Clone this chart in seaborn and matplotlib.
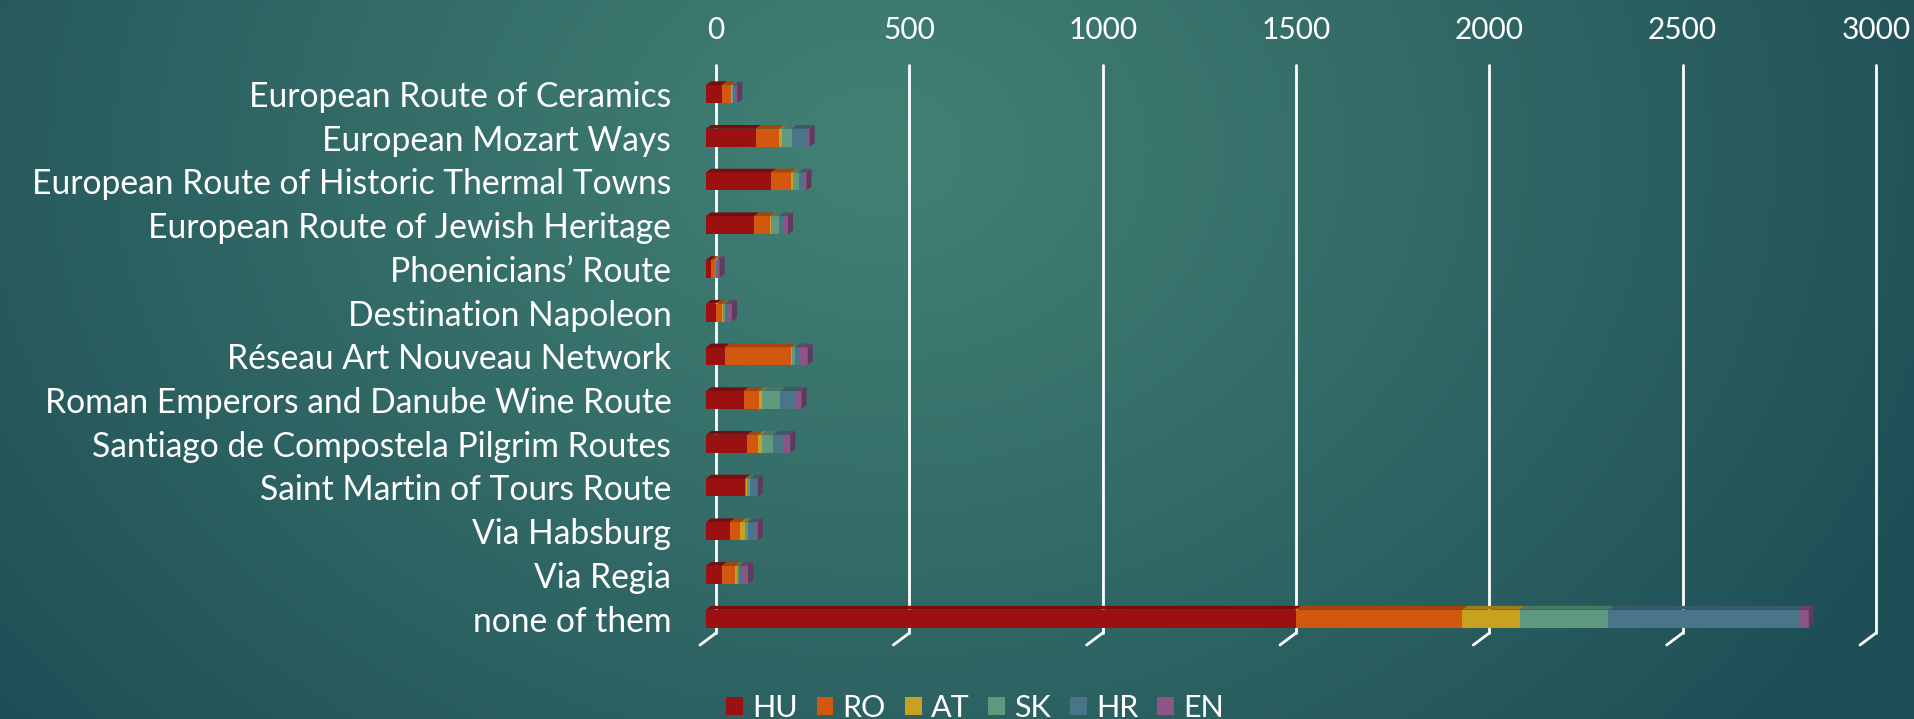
import numpy as np
import pandas as pd
import matplotlib
matplotlib.use("Agg")
import matplotlib.pyplot as plt
import seaborn as sns
import matplotlib.colors as mcolors
from matplotlib.transforms import ScaledTranslation
from matplotlib.patches import Polygon, Patch

# ---------------- data ----------------
categories = [
    "European Route of Ceramics",
    "European Mozart Ways",
    "European Route of Historic Thermal Towns",
    "European Route of Jewish Heritage",
    "Phoenicians\u2019 Route",
    "Destination Napoleon",
    "R\u00e9seau Art Nouveau Network",
    "Roman Emperors and Danube Wine Route",
    "Santiago de Compostela Pilgrim Routes",
    "Saint Martin of Tours Route",
    "Via Habsburg",
    "Via Regia",
    "none of them",
]
hu = [41, 129, 168, 125, 13, 26, 48, 97, 107, 101, 61, 41, 1526]
ro = [23, 60, 53, 41, 9, 16, 172, 41, 28, 3, 28, 35, 430]
at = [2, 7, 4, 3, 2, 3, 3, 6, 9, 1, 12, 4, 149]
sk = [4, 26, 15, 19, 2, 5, 7, 48, 30, 9, 8, 5, 229]
hr = [6, 41, 11, 15, 3, 8, 11, 41, 28, 17, 18, 8, 492]
en = [5, 5, 9, 9, 6, 9, 22, 14, 16, 3, 7, 16, 26]

series_names = ["HU", "RO", "AT", "SK", "HR", "EN"]
series_colors = ["#9b1111", "#d2580f", "#caa021", "#5f9a80", "#4a7487", "#8b5588"]
x_ticks = [0, 500, 1000, 1500, 2000, 2500, 3000]

# ---------------- setup ----------------
DPI = 100
W, H = 1914, 719
sns.set_theme(style="white")
plt.rcParams["font.family"] = ["Lato", "DejaVu Sans"]

fig = plt.figure(figsize=(W / DPI, H / DPI), dpi=DPI)

# background gradient
bg = fig.add_axes([0, 0, 1, 1], zorder=-10)
yy, xx = np.mgrid[0:H, 0:W]
t = np.sqrt(((xx - 880) / 1150.0) ** 2 + ((yy - 150) / 900.0) ** 2)
t = np.clip(t, 0, 1) ** 1.1
inner = np.array([66, 128, 116]) / 255.0
outer = np.array([30, 78, 86]) / 255.0
img = inner + (outer - inner) * t[..., None]
bg.imshow(img, aspect="auto", extent=[0, 1, 0, 1], origin="upper")
bg.axis("off")

# plotting axes (front plane of the bars)
top_px, bot_px = 72.15, 640.4
left_px, right_px = 706, 706 + 1160
ax = fig.add_axes([left_px / W, 1 - bot_px / H, (right_px - left_px) / W, (bot_px - top_px) / H])
ax.set_facecolor("none")

df = pd.DataFrame({"category": categories, "HU": hu, "RO": ro, "AT": at,
                   "SK": sk, "HR": hr, "EN": en})
cum = df[series_names].cumsum(axis=1)

containers = {}
for name, col in reversed(list(zip(series_names, series_colors))):
    d = pd.DataFrame({"category": df["category"], "value": cum[name]})
    sns.barplot(data=d, x="value", y="category", color=col, orient="h",
                width=0.41, saturation=1, linewidth=0, ax=ax, zorder=2)
    containers[name] = ax.containers[-1]

ax.set_xlim(0, 3000)
ax.set_ylim(12.5, -0.5)
for s in ax.spines.values():
    s.set_visible(False)
ax.set_xlabel("")
ax.set_ylabel("")

# 3D faces derived from bar geometry
px_per_x = (right_px - left_px) / 3000.0
px_per_y = (bot_px - top_px) / 13.0
dx = 5.0 / px_per_x
dy = 3.75 / px_per_y

def shade(c, f):
    r, g, b = mcolors.to_rgb(c)
    return (r * f, g * f, b * f)

for i in range(len(categories)):
    prev_right = 0.0
    for j, (name, col) in enumerate(zip(series_names, series_colors)):
        rect = containers[name].patches[i]
        x0 = prev_right
        x1 = rect.get_x() + rect.get_width()
        ytop = rect.get_y()
        ybot = rect.get_y() + rect.get_height()
        if x1 > x0:
            ax.add_patch(Polygon([(x0, ytop), (x1, ytop), (x1 + dx, ytop - dy), (x0 + dx, ytop - dy)],
                                 closed=True, facecolor=shade(col, 0.78), edgecolor="none", zorder=3))
        if j == len(series_names) - 1:
            ax.add_patch(Polygon([(x1, ytop), (x1 + dx, ytop - dy), (x1 + dx, ybot - dy), (x1, ybot)],
                                 closed=True, facecolor=shade(col, 0.68), edgecolor="none", zorder=3))
        prev_right = max(prev_right, x1)

# gridlines on the back wall (shifted)
back = ScaledTranslation(10 / DPI, 7.5 / DPI, fig.dpi_scale_trans)
for v in x_ticks:
    ax.plot([v, v], [0, 1], transform=ax.get_xaxis_transform() + back,
            color="white", lw=2, clip_on=False, zorder=1)
    ax.annotate("", xy=(v, 0), xycoords=ax.get_xaxis_transform() + ScaledTranslation(-6 / DPI, -4.6 / DPI, fig.dpi_scale_trans),
                xytext=(v, 0), textcoords=ax.get_xaxis_transform() + ScaledTranslation(10 / DPI, 7.4 / DPI, fig.dpi_scale_trans),
                arrowprops=dict(arrowstyle="-", color="white", lw=2, shrinkA=0, shrinkB=0),
                annotation_clip=False)

# ticks
ax.xaxis.tick_top()
ax.set_xticks(x_ticks)
ax.set_xticklabels([str(v) for v in x_ticks])
ax.tick_params(axis="x", length=0, pad=20, labelsize=21.5, labelcolor="white")
ax.tick_params(axis="y", length=0, pad=25, labelsize=24.2, labelcolor="white")
for lbl in ax.get_xticklabels():
    lbl.set_transform(lbl.get_transform() + ScaledTranslation(10 / DPI, 0, fig.dpi_scale_trans))
ax.grid(False)

# legend
handles = [Patch(facecolor=c, edgecolor="none", label=n) for n, c in zip(series_names, series_colors)]
leg = fig.legend(handles=handles, loc="center", bbox_to_anchor=(975 / W, 1 - 708 / H),
                 ncol=6, frameon=False, fontsize=22, handlelength=0.55, handleheight=0.55,
                 handletextpad=0.3, columnspacing=0.62, labelcolor="white")

fig.savefig("out.png", dpi=DPI)
